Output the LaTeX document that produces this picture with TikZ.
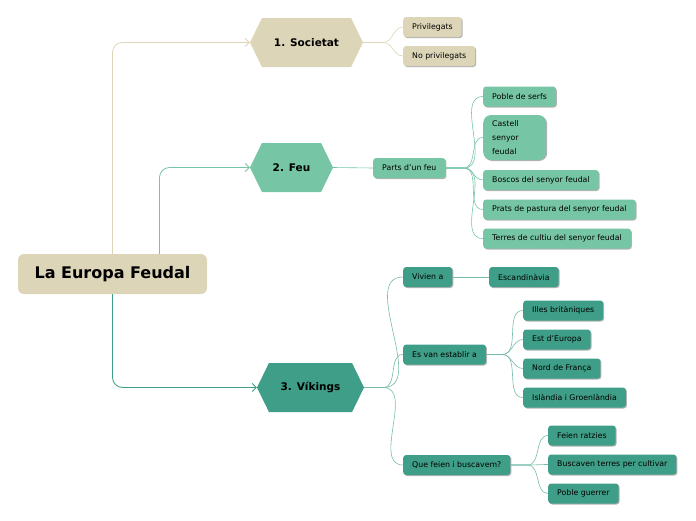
\documentclass[tikz,border=0pt]{standalone}
\usepackage{fontspec}
\setmainfont{DejaVu Sans}
\newfontfamily\headfont{DejaVu Sans}
\usetikzlibrary{shapes.symbols,arrows.meta,shadows}

\definecolor{sand}{HTML}{DDD5B7}
\definecolor{mint}{HTML}{76C5A4}
\definecolor{vikteal}{HTML}{3E9E87}

\tikzset{
  root/.style={rounded corners=6pt, fill=sand, minimum width=189pt, minimum height=40pt,
    font=\headfont\bfseries\fontsize{16}{19}\selectfont},
  hexa/.style={signal, signal to=east and west, signal pointer angle=128, inner sep=0pt,
    minimum height=49pt, font=\headfont\bfseries\fontsize{10.5}{12}\selectfont},
  leaf/.style={rounded corners=3pt, minimum height=20pt, inner xsep=9pt, anchor=west,
    font=\fontsize{7.8}{9}\selectfont,
    drop shadow={shadow xshift=1pt, shadow yshift=-1pt, opacity=0.3, fill=black}},
  link/.style={line width=0.8pt, rounded corners=10pt, -{Straight Barb[length=4pt,width=8pt]}},
  twig/.style={line width=0.6pt}
}

\begin{document}
\begin{tikzpicture}[x=1pt, y=-1pt]
  \useasboundingbox (0,0) rectangle (696,520);

  % Main topic and branches
  \node[root] (europa) at (112.5,274) {La Europa Feudal};
  \node[hexa, fill=sand, minimum width=113pt] (soc) at (306.5,42.5) {1. Societat};
  \node[hexa, fill=mint, minimum width=83pt] (feu) at (291.5,167.5) {2. Feu};
  \node[hexa, fill=vikteal, minimum width=107pt] (vik) at (310.5,387.5) {3. Víkings};

  \draw[link, sand] (europa.north) |- (soc.west);
  \draw[link, mint] ([xshift=47pt]europa.north) |- (feu.west);
  \draw[link, vikteal] (europa.south) |- (vik.west);

  % Societat
  \node[leaf, fill=sand] (priv) at (403,27) {Privilegats};
  \node[leaf, fill=sand] (nopriv) at (403,56) {No privilegats};
  \foreach \c in {priv,nopriv}
    \draw[twig, sand] (soc.east) -- ++(20,0) to[out=0,in=180] (\c.west);

  % Feu
  \node[leaf, fill=mint] (parts) at (373,168) {Parts d'un feu};
  \draw[twig, mint] (feu.east) -- (parts.west);
  \node[leaf, fill=mint] (poble) at (483,96.5) {Poble de serfs};
  \node[leaf, fill=mint, rounded corners=8pt, minimum width=63pt, minimum height=45pt,
    align=left, font=\fontsize{7.8}{14}\selectfont, text width=45pt] (castell) at (483,137.5)
    {Castell\\senyor\\feudal};
  \node[leaf, fill=mint] (boscos) at (483,180) {Boscos del senyor feudal};
  \node[leaf, fill=mint] (prats) at (483,209.5) {Prats de pastura del senyor feudal};
  \node[leaf, fill=mint] (terres) at (483,238.5) {Terres de cultiu del senyor feudal};
  \foreach \c in {poble,castell,boscos,prats,terres}
    \draw[twig, mint] (parts.east) -- ++(18,0) to[out=0,in=180] (\c.west);

  % Vikings
  \node[leaf, fill=vikteal] (vivien) at (403,277) {Vivien a};
  \node[leaf, fill=vikteal] (establir) at (403,354.5) {Es van establir a};
  \node[leaf, fill=vikteal] (quefeien) at (403,465) {Que feien i buscavem?};
  \foreach \c in {vivien,establir,quefeien}
    \draw[twig, vikteal!70] (vik.east) -- ++(19,0) to[out=0,in=180] (\c.west);

  \node[leaf, fill=vikteal] (escand) at (489,277) {Escandinàvia};
  \draw[twig, vikteal!70] (vivien.east) -- (escand.west);

  \node[leaf, fill=vikteal] (illes) at (523,310.5) {Illes britàniques};
  \node[leaf, fill=vikteal] (est) at (523,339.5) {Est d'Europa};
  \node[leaf, fill=vikteal] (nord) at (523,368.5) {Nord de França};
  \node[leaf, fill=vikteal] (islandia) at (523,397.5) {Islàndia i Groenlàndia};
  \foreach \c in {illes,est,nord,islandia}
    \draw[twig, vikteal!70] (establir.east) -- ++(16,0) to[out=0,in=180] (\c.west);

  \node[leaf, fill=vikteal] (ratzies) at (548,435.5) {Feien ratzies};
  \node[leaf, fill=vikteal] (terrescult) at (548,464.5) {Buscaven terres per cultivar};
  \node[leaf, fill=vikteal] (guerrer) at (548,493.5) {Poble guerrer};
  \foreach \c in {ratzies,terrescult,guerrer}
    \draw[twig, vikteal!70] (quefeien.east) -- ++(17,0) to[out=0,in=180] (\c.west);
\end{tikzpicture}
\end{document}
